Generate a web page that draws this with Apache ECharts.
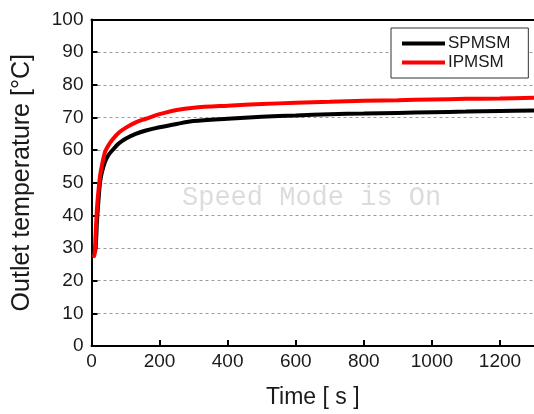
<!DOCTYPE html>
<html><head><meta charset="utf-8">
<script src="https://cdn.jsdelivr.net/npm/echarts@6/dist/echarts.min.js"></script>
<style>html,body{margin:0;padding:0;background:#fff}#c{width:534px;height:414px}</style>
</head><body><div id="c"></div>
<script>
const xTicks = [0, 200, 400, 600, 800, 1000, 1200];
const yTicks = [0, 10, 20, 30, 40, 50, 60, 70, 80, 90, 100];
const timeS = [5, 8, 12, 16, 20, 25, 30, 40, 50, 60, 80, 100, 130, 160, 200, 250, 300, 400, 500, 600, 700, 800, 900, 1000, 1100, 1200, 1300];
const spmsm = [29, 28.5, 30, 38, 44, 50, 53, 56.5, 58.5, 59.8, 62, 63.5, 65, 66, 67, 68, 68.9, 69.6, 70.2, 70.6, 71, 71.2, 71.4, 71.6, 71.8, 72, 72.1];
const ipmsm = [28, 27.5, 34, 42, 47, 52, 55, 59.5, 61.5, 63, 65.3, 66.8, 68.5, 69.6, 71, 72.3, 73, 73.6, 74.1, 74.5, 74.8, 75.1, 75.3, 75.5, 75.7, 75.8, 76];
const seriesNames = ['SPMSM', 'IPMSM'];
const watermark = 'Speed Mode is On';

const chart = echarts.init(document.getElementById('c'));
const pair = (ys) => timeS.map((t, i) => [t, ys[i]]);
const txt = '#1a1a1a';
const font = 'Arial, Liberation Sans';
chart.setOption({
  animation: false,
  backgroundColor: '#fff',
  grid: { left: 91.5, top: 19.5, width: 444, height: 326.5, show: false },
  xAxis: [{
    type: 'value', min: 0, max: 1300, interval: 200,
    axisLine: { show: true, lineStyle: { color: '#000', width: 2 } },
    axisTick: { show: true, inside: true, length: 6, lineStyle: { color: '#000', width: 2 } },
    axisLabel: { color: txt, fontFamily: font, fontSize: 19, margin: 6, showMaxLabel: false,
      formatter: v => xTicks.includes(v) ? String(v) : '' },
    splitLine: { show: false },
    name: 'Time [ s ]', nameLocation: 'middle', nameGap: 40,
    nameTextStyle: { color: txt, fontFamily: font, fontSize: 23 }
  }, {
    type: 'value', position: 'top', min: 0, max: 1300,
    axisLine: { show: true, onZero: false, lineStyle: { color: '#000', width: 2 } },
    axisTick: { show: false }, axisLabel: { show: false }, splitLine: { show: false }, z: 10
  }],
  yAxis: {
    type: 'value', min: 0, max: 100, interval: 10,
    axisLine: { show: true, lineStyle: { color: '#000', width: 2 } },
    axisTick: { show: true, inside: true, length: 6, lineStyle: { color: '#000', width: 2 } },
    axisLabel: { color: txt, fontFamily: font, fontSize: 19, margin: 8,
      formatter: v => yTicks.includes(v) ? String(v) : '' },
    splitLine: { show: true, lineStyle: { color: '#9a9a9a', width: 1, type: [3, 3] } },
    name: 'Outlet temperature [°C]', nameLocation: 'middle', nameGap: 57,
    nameTextStyle: { color: txt, fontFamily: font, fontSize: 25 }
  },
  legend: {
    left: 391, top: 28, orient: 'vertical',
    data: seriesNames,
    backgroundColor: '#fff', borderColor: '#333', borderWidth: 1,
    padding: [7, 18, 7, 11], itemGap: 2, itemWidth: 43, itemHeight: 4, icon: 'rect',
    textStyle: { color: txt, fontFamily: font, fontSize: 17, padding: [0, 0, 0, -2] }
  },
  graphic: [{
    type: 'text', top: 184, left: 182, z: 0,
    style: { text: watermark, fontFamily: 'Liberation Mono, Courier New, monospace', fontSize: 27, fill: '#dcdcdc' }
  }],
  series: [
    { name: seriesNames[0], type: 'line', data: pair(spmsm), showSymbol: false, smooth: 0.3, lineStyle: { color: '#000', width: 4 }, itemStyle: { color: '#000' }, z: 3 },
    { name: seriesNames[1], type: 'line', data: pair(ipmsm), showSymbol: false, smooth: 0.3, lineStyle: { color: '#ff0000', width: 4 }, itemStyle: { color: '#ff0000' }, z: 4 }
  ]
});
</script></body></html>
